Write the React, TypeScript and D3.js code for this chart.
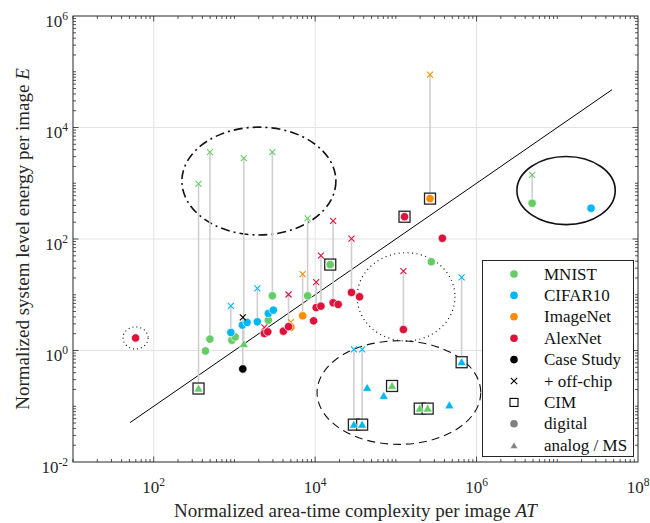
import React, { useEffect, useRef } from "react";
import * as d3 from "d3";

const W = 650;
const H = 523;

type Pt = { at: number; e: number; off?: number; analog?: boolean; cim?: boolean };

// values (AT, E, off-chip E)
const MNIST: Pt[] = [
  { at: 359, e: 0.208, off: 973, analog: true, cim: true },
  { at: 497, e: 1.6, off: 3614 },
  { at: 1306, e: 1.3, off: 2818, analog: true },
  { at: 2951, e: 9.57, off: 3614 },
  { at: 8072, e: 9.57, off: 235 },
  { at: 438, e: 0.98 },
  { at: 929, e: 1.53 },
  { at: 1021, e: 1.75 },
  { at: 2630, e: 3.5 },
  { at: 15380, e: 34.8, cim: true },
  { at: 275000, e: 39.1 },
  { at: 89700, e: 0.231, analog: true, cim: true },
  { at: 197700, e: 0.0907, analog: true, cim: true },
  { at: 247800, e: 0.0907, analog: true, cim: true },
  { at: 4.88e6, e: 438, off: 1413 },
];

const CIFAR10: Pt[] = [
  { at: 902, e: 2.1, off: 6.3 },
  { at: 1256, e: 2.85 },
  { at: 1435, e: 3.19 },
  { at: 1923, e: 3.27, off: 13.0 },
  { at: 2630, e: 4.62 },
  { at: 3034, e: 5.3 },
  { at: 30200, e: 0.0468, off: 1.05, analog: true, cim: true },
  { at: 38200, e: 0.0468, off: 1.05, analog: true, cim: true },
  { at: 44100, e: 0.213, analog: true },
  { at: 70800, e: 0.153, analog: true },
  { at: 460000, e: 0.104, analog: true },
  { at: 653000, e: 0.616, off: 20.5, analog: true, cim: true },
  { at: 2.62e7, e: 356 },
];

const IMAGENET: Pt[] = [
  { at: 7000, e: 4.19, off: 23.5 },
  { at: 5010, e: 2.63, off: 3.23 },
  { at: 265000, e: 530, off: 88500, cim: true },
];

const ALEXNET: Pt[] = [
  { at: 59.6, e: 1.68 },
  { at: 2350, e: 2.02, off: 2.59 },
  { at: 2590, e: 2.16 },
  { at: 4040, e: 2.22 },
  { at: 4680, e: 2.68, off: 10.1 },
  { at: 9570, e: 3.4 },
  { at: 10300, e: 5.88, off: 16.9 },
  { at: 11800, e: 6.25, off: 50.5 },
  { at: 16700, e: 7.17, off: 211 },
  { at: 19300, e: 6.71 },
  { at: 28200, e: 11.0, off: 102 },
  { at: 35500, e: 9.19 },
  { at: 128000, e: 251, cim: true },
  { at: 377000, e: 103 },
  { at: 124000, e: 2.38, off: 26.6 },
];

const CASE_STUDY: Pt[] = [{ at: 1270, e: 0.467, off: 3.92 }];

const SERIES = [
  { name: "MNIST", color: "#66cc66", pts: MNIST },
  { name: "CIFAR10", color: "#00b7f5", pts: CIFAR10 },
  { name: "ImageNet", color: "#ff8c00", pts: IMAGENET },
  { name: "AlexNet", color: "#dc143c", pts: ALEXNET },
  { name: "Case Study", color: "#000000", pts: CASE_STUDY },
];

// E ~ AT reference line
const TREND_AT = [51, 4.77e7];
const TREND_E = [0.051, 4.77e4];

// annotation ellipses: centre (AT, E) and half axes in decades
const ELLIPSES = [
  { at: 2010, e: 1094, rx: 0.954, ry: 0.967, dash: "9,4,2,4", w: 1.6 },
  { at: 1.285e7, e: 738, rx: 0.609, ry: 0.611, dash: null, w: 1.6 },
  { at: 133700, e: 9.18, rx: 0.606, ry: 0.791, dash: "1,3.5", w: 1.2 },
  { at: 109100, e: 0.176, rx: 1.014, ry: 0.929, dash: "8,5", w: 1.1 },
  { at: 59.6, e: 1.68, rx: 0.155, ry: 0.198, dash: "1,3", w: 1.1 },
];

const LEGEND = ["MNIST", "CIFAR10", "ImageNet", "AlexNet", "Case Study", "+ off-chip", "CIM", "digital", "analog / MS"];

const X_MAJOR = [1e2, 1e4, 1e6, 1e8];
const Y_MAJOR = [1e-2, 1e0, 1e2, 1e4, 1e6];

const FONT = "'Liberation Serif', 'Times New Roman', serif";

export default function App() {
  const svgRef = useRef<SVGSVGElement>(null);

  useEffect(() => {
    const m = { left: 73, right: 638, top: 16, bottom: 462 };
    const svg = d3.select(svgRef.current);
    svg.selectAll("*").remove();

    const x = d3.scaleLog().domain([1e1, 1e8]).range([m.left, m.right]);
    const y = d3.scaleLog().domain([1e-2, 1e6]).range([m.bottom, m.top]);

    svg.append("rect").attr("width", W).attr("height", H).attr("fill", "#fff");

    // grid
    X_MAJOR.filter(v => v < 1e8).forEach(v => {
      svg.append("line").attr("x1", x(v)).attr("x2", x(v)).attr("y1", m.top).attr("y2", m.bottom)
        .attr("stroke", "#e3e3e3").attr("stroke-width", 1);
    });
    Y_MAJOR.filter(v => v > 1e-2 && v < 1e6).forEach(v => {
      svg.append("line").attr("x1", m.left).attr("x2", m.right).attr("y1", y(v)).attr("y2", y(v))
        .attr("stroke", "#e3e3e3").attr("stroke-width", 1);
    });

    // ticks, inside on all four sides
    const tk = svg.append("g").attr("stroke", "#262626").attr("stroke-width", 0.8);
    for (let n = 1; n < 8; n++) {
      for (let k = 1; k <= 9; k++) {
        const v = k * Math.pow(10, n);
        if (v >= 1e8) continue;
        const len = k === 1 && n % 2 === 0 ? 5.5 : 3;
        const px = x(v);
        tk.append("line").attr("x1", px).attr("x2", px).attr("y1", m.bottom).attr("y2", m.bottom - len);
        tk.append("line").attr("x1", px).attr("x2", px).attr("y1", m.top).attr("y2", m.top + len);
      }
    }
    for (let n = -2; n < 6; n++) {
      for (let k = 1; k <= 9; k++) {
        const v = k * Math.pow(10, n);
        if (v <= 1e-2 || v >= 1e6) continue;
        const len = k === 1 && n % 2 === 0 ? 5.5 : 3;
        const py = y(v);
        tk.append("line").attr("x1", m.left).attr("x2", m.left + len).attr("y1", py).attr("y2", py);
        tk.append("line").attr("x1", m.right).attr("x2", m.right - len).attr("y1", py).attr("y2", py);
      }
    }

    // frame
    svg.append("rect").attr("x", m.left).attr("y", m.top)
      .attr("width", m.right - m.left).attr("height", m.bottom - m.top)
      .attr("fill", "none").attr("stroke", "#262626").attr("stroke-width", 1);

    // tick labels
    const expLabel = (g: any, v: number) => {
      g.append("tspan").text("10");
      g.append("tspan").attr("dy", -7).attr("font-size", 11.5).text(String(Math.round(Math.log10(v))));
    };
    X_MAJOR.forEach(v => {
      const t = svg.append("text").attr("x", x(v)).attr("y", 493).attr("text-anchor", "middle")
        .attr("font-family", FONT).attr("font-size", 17).attr("fill", "#262626");
      expLabel(t, v);
    });
    Y_MAJOR.forEach(v => {
      const t = svg.append("text").attr("x", 68).attr("y", y(v) + 10.5).attr("text-anchor", "end")
        .attr("font-family", FONT).attr("font-size", 17).attr("fill", "#262626");
      expLabel(t, v);
    });

    // axis titles
    const xt = svg.append("text").attr("x", (m.left + m.right) / 2).attr("y", 517).attr("text-anchor", "middle")
      .attr("font-family", FONT).attr("font-size", 19).attr("fill", "#262626");
    xt.append("tspan").text("Normalized area-time complexity per image ");
    xt.append("tspan").attr("font-style", "italic").text("AT");
    const yt = svg.append("text").attr("transform", `translate(29,${(m.top + m.bottom) / 2}) rotate(-90)`)
      .attr("text-anchor", "middle").attr("font-family", FONT).attr("font-size", 19).attr("fill", "#262626");
    yt.append("tspan").text("Normalized system level energy per image ");
    yt.append("tspan").attr("font-style", "italic").text("E");

    const plot = svg.append("g");

    // trend line
    plot.append("path")
      .attr("d", d3.line<number>().x((d, i) => x(TREND_AT[i])).y((d, i) => y(TREND_E[i]))(TREND_AT))
      .attr("stroke", "#000").attr("stroke-width", 1).attr("fill", "none");

    // ellipses
    ELLIPSES.forEach(el => {
      const cx = x(el.at), cy = y(el.e);
      const rx = x(el.at * Math.pow(10, el.rx)) - cx;
      const ry = cy - y(el.e * Math.pow(10, el.ry));
      const p = plot.append("ellipse").attr("cx", cx).attr("cy", cy).attr("rx", rx).attr("ry", ry)
        .attr("fill", "none").attr("stroke", "#111").attr("stroke-width", el.w);
      if (el.dash) p.attr("stroke-dasharray", el.dash);
    });

    // off-chip connectors
    SERIES.forEach(s => s.pts.filter(p => p.off).forEach(p => {
      plot.append("line").attr("x1", x(p.at)).attr("x2", x(p.at)).attr("y1", y(p.e)).attr("y2", y(p.off!))
        .attr("stroke", "#cfcfcf").attr("stroke-width", 1.6);
    }));

    // CIM squares
    SERIES.forEach(s => s.pts.filter(p => p.cim).forEach(p => {
      plot.append("rect").attr("x", x(p.at) - 5.5).attr("y", y(p.e) - 5.5).attr("width", 11).attr("height", 11)
        .attr("fill", "#fff").attr("stroke", "#222").attr("stroke-width", 1.3);
    }));

    const cross = (g: any, cx: number, cy: number, color: string, r = 3) => {
      g.append("path").attr("d", `M${cx - r},${cy - r}L${cx + r},${cy + r}M${cx - r},${cy + r}L${cx + r},${cy - r}`)
        .attr("stroke", color).attr("stroke-width", 1.1).attr("fill", "none");
    };
    const tri = (g: any, cx: number, cy: number, color: string, s = 4.5) => {
      g.append("path").attr("d", `M${cx},${cy - s}L${cx + s},${cy + s * 0.75}L${cx - s},${cy + s * 0.75}Z`)
        .attr("fill", color).attr("stroke", "#fff").attr("stroke-width", 0.5);
    };

    SERIES.forEach(s => {
      s.pts.filter(p => p.off).forEach(p => cross(plot, x(p.at), y(p.off!), s.color));
      s.pts.forEach(p => {
        if (p.analog) tri(plot, x(p.at), y(p.e), s.color);
        else plot.append("circle").attr("cx", x(p.at)).attr("cy", y(p.e)).attr("r", 4.2)
          .attr("fill", s.color).attr("stroke", "#fff").attr("stroke-width", 0.7);
      });
    });

    // legend
    const lg = svg.append("g");
    lg.append("rect").attr("x", 482.5).attr("y", 260.5).attr("width", 151).attr("height", 196)
      .attr("fill", "#fff").attr("stroke", "#262626").attr("stroke-width", 1);
    LEGEND.forEach((name, i) => {
      const cy = 274 + i * 21.4;
      const mx = 514;
      const s = SERIES.find(d => d.name === name);
      if (s) lg.append("circle").attr("cx", mx).attr("cy", cy).attr("r", 3.8).attr("fill", s.color);
      else if (name === "+ off-chip") cross(lg, mx, cy, "#000", 3.2);
      else if (name === "CIM") lg.append("rect").attr("x", mx - 4).attr("y", cy - 4).attr("width", 8).attr("height", 8)
        .attr("fill", "#fff").attr("stroke", "#000").attr("stroke-width", 1.1);
      else if (name === "digital") lg.append("circle").attr("cx", mx).attr("cy", cy).attr("r", 3.8).attr("fill", "#808080");
      else tri(lg, mx, cy + 0.5, "#808080", 3.8);
      lg.append("text").attr("x", 544).attr("y", cy + 5.5).attr("font-family", FONT).attr("font-size", 17)
        .attr("fill", "#111").text(name);
    });
  }, []);

  return (
    <svg ref={svgRef} width={W} height={H}
      style={{ position: "absolute", left: 0, top: 0, display: "block" }} />
  );
}
